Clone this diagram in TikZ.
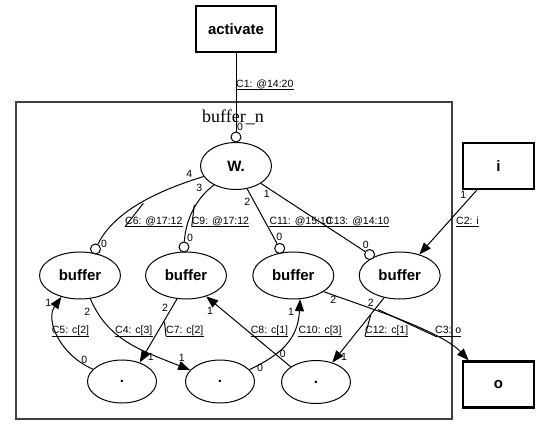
\documentclass[tikz,border=0pt]{standalone}
\usepackage{fontspec}
\setmainfont{Liberation Sans}
\newfontfamily\clusterfont{Liberation Serif}
\usetikzlibrary{arrows.meta,shapes.geometric}

\begin{document}
\begin{tikzpicture}[x=1pt, y=-1pt,
  ext/.style={draw, line width=2.4pt, minimum width=71pt, minimum height=46pt, inner sep=0pt, font=\fontsize{15}{18}\selectfont\bfseries},
  proc/.style={draw, ellipse, line width=1pt, minimum width=81pt, minimum height=47pt, inner sep=0pt, font=\fontsize{15}{18}\selectfont\bfseries},
  dotnode/.style={proc, minimum width=69pt, minimum height=43pt},
  port/.style={draw, circle, line width=1pt, fill=white, minimum size=10pt, inner sep=0pt},
  cluster/.style={draw=black!75, line width=1.6pt},
  edge/.style={line width=1pt},
  arr/.style={-{Triangle[length=12pt, width=9pt]}},
  elab/.style={anchor=south west, inner sep=0pt, text height=8pt, text depth=2pt, font=\fontsize{10.5}{12}\selectfont},
  plab/.style={inner sep=0pt, font=\fontsize{10.5}{12}\selectfont}]
\useasboundingbox (0,0) rectangle (540,436);

% Outer boxes
\node[ext, minimum width=80pt] (act) at (236,29) {activate};
\node[ext] (i) at (498.5,166) {i};
\node[ext] (o) at (498.5,384.5) {o};

% Cluster buffer_n
\draw[cluster] (16,102) rectangle (452,419);
\node[font=\clusterfont\fontsize{18}{20}\selectfont] (title) at (233,117) {buffer\_n};

% Processes
\node[proc, minimum width=71pt] (w) at (236,166) {W.};
\node[proc] (b1) at (80,275.5) {buffer};
\node[proc] (b2) at (186,275.5) {buffer};
\node[proc] (b3) at (293.3,275.5) {buffer};
\node[proc] (b4) at (399.7,275.5) {buffer};
\node[dotnode] (d1) at (122,381.5) {.};
\node[dotnode] (d2) at (220,381.5) {.};
\node[dotnode] (d3) at (316,382) {.};

% Ports
\node[port] (wp) at (236,137) {};
\node[port] (p1) at (95.5,249) {};
\node[port] (p2) at (184,247) {};
\node[port] (p3) at (279.7,248.4) {};
\node[port] (p4) at (369.6,254.5) {};

% Channels
\draw[edge] (act) -- (wp);
\draw[edge] (w.198) .. controls (160,190) and (115,210) .. (p1);
\draw[edge] (w.221) .. controls (200,195) and (186,215) .. (p2);
\draw[edge] (w.296) -- (p3);
\draw[edge] (w.325) -- (p4);
\draw[edge, arr] (i.228) -- (b4.47);
\draw[edge, arr] (b1.294) .. controls (108,340) and (140,350) .. (d2.159);
\draw[edge, arr] (d1.157) .. controls (60,355) and (45,320) .. (b1.229);
\draw[edge, arr] (b2.249) -- (d1.47);
\draw[edge, arr] (d3.149) -- (b2.314);
\draw[edge, arr] (d2.22) .. controls (280,355) and (298,340) .. (b3.286);
\draw[edge, arr] (b4.235) -- (d3.50);
\draw[edge, arr] (b3.332) .. controls (360,305) and (440,330) .. (o.141);

% Channel labels
\node[elab] (l1) at (236,89.3) {C1: @14:20};
\node[elab] (l6) at (125,226.7) {C6: @17:12};
\node[elab] (l9) at (191.7,226.7) {C9: @17:12};
\node[elab] (l11) at (269.3,226.5) {C11: @15:10};
\node[elab] (l13) at (326,226.5) {C13: @14:10};
\node[elab] (l2) at (456,226.5) {C2: i};
\node[elab] (l5) at (51.7,336) {C5: c[2]};
\node[elab] (l4) at (115,336) {C4: c[3]};
\node[elab] (l7) at (166,336) {C7: c[2]};
\node[elab] (l8) at (250.7,336) {C8: c[1]};
\node[elab] (l10) at (298.3,336) {C10: c[3]};
\node[elab] (l12) at (365,336) {C12: c[1]};
\node[elab] (l3) at (435,336) {C3: o};
\foreach \l in {l1,l6,l9,l11,l13,l2,l5,l4,l7,l8,l10,l12,l3}
  \draw[edge] (\l.south west) -- (\l.south east);

% Leaders
\coordinate (m6) at (143.3,203.3);
\coordinate (m9) at (194.3,205);
\coordinate (m7) at (164.5,322);
\coordinate (m12) at (370.7,315);
\coordinate (m3) at (378,309.5);
\draw[edge] (l6.south west) -- (m6);
\draw[edge] (l9.south west) -- (m9);
\draw[edge] (l7.south west) -- (m7);
\draw[edge] (l12.south west) -- (m12);
\draw[edge] (l3.south west) -- (m3);

% Port numbers
\node[plab] (h1) at (240,127) {0};
\node[plab] (t6) at (189.3,174.3) {4};
\node[plab] (h6) at (104,244.3) {0};
\node[plab] (t9) at (199.3,187.7) {3};
\node[plab] (h9) at (190,237.7) {0};
\node[plab] (t11) at (247.3,201.7) {2};
\node[plab] (h11) at (279.3,237.3) {0};
\node[plab] (t13) at (266.7,194) {1};
\node[plab] (h13) at (365.7,245) {0};
\node[plab] (t2) at (463.3,195) {1};
\node[plab] (t4) at (87.3,311.7) {2};
\node[plab] (h4) at (181.7,358.3) {1};
\node[plab] (t5) at (84.3,360) {0};
\node[plab] (h5) at (48.3,303.3) {1};
\node[plab] (t7) at (165,308.3) {2};
\node[plab] (h7) at (150.7,357.3) {1};
\node[plab] (t8) at (282.7,354) {0};
\node[plab] (h8) at (210,310.7) {1};
\node[plab] (t10) at (260,368.3) {0};
\node[plab] (h10) at (291,311.7) {1};
\node[plab] (t12) at (370.7,303) {2};
\node[plab] (h12) at (344,356.7) {1};
\node[plab] (t3) at (333.3,300) {2};

\end{tikzpicture}
\end{document}
